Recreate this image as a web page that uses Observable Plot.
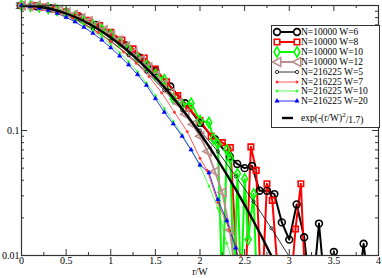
<!DOCTYPE html>
<html><head><meta charset="utf-8">
<script src="https://cdn.jsdelivr.net/npm/d3@7"></script>
<script src="https://cdn.jsdelivr.net/npm/@observablehq/plot@0.6"></script>
<style>
html,body{margin:0;padding:0;background:#fff;font-family:"Liberation Serif";}
#wrap{position:relative;width:382px;height:278px;overflow:hidden;}
#legend{position:absolute;left:0;top:0;}
svg text{font-family:"Liberation Serif";}
</style></head><body><div id="wrap"></div>
<script>
// ---- data ----
const labels = ["N=10000 W=6","N=10000 W=8","N=10000 W=10","N=10000 W=12","N=216225 W=5","N=216225 W=7","N=216225 W=10","N=216225 W=20"];

const r6 = [0,0.167,0.333,0.5,0.667,0.833,1.0,1.167,1.333,1.5,1.667,1.833,2.0,2.167,2.333,2.417,2.5,2.583,2.667,2.75,2.833,2.917,3.0,3.083,3.167,3.25,3.333,3.417,3.5,3.583,3.667,3.75,3.833,3.917];
const v6 = [1.0,0.985,0.95,0.88,0.8,0.7,0.59,0.48,0.38,0.3,0.225,0.165,0.115,0.085,0.062,0.054,0.05,0.052,0.033,0.033,0.031,0.0184,0.0134,0.0256,0.014,0.004,0.018,0.004,0.0107,0.004,0.004,0.004,0.0124,0.004];

const r8 = [0,0.125,0.25,0.375,0.5,0.625,0.75,0.875,1.0,1.125,1.25,1.375,1.5,1.625,1.75,1.875,2.0,2.125,2.25,2.34,2.44,2.5,2.57,2.63,2.69,2.75,2.81,2.9,3.0,3.07,3.13,3.19];
const v8 = [1.0,0.995,0.97,0.94,0.89,0.83,0.76,0.69,0.61,0.53,0.45,0.38,0.31,0.245,0.19,0.15,0.12,0.09,0.08,0.073,0.004,0.004,0.074,0.048,0.004,0.0375,0.0276,0.004,0.004,0.0163,0.0375,0.004];

const r10 = [0,0.1,0.2,0.3,0.4,0.5,0.6,0.7,0.8,0.9,1.0,1.1,1.2,1.3,1.4,1.5,1.6,1.7,1.8,1.9,2.0,2.1,2.15,2.2,2.25,2.3,2.34,2.38,2.42,2.46,2.5,2.54,2.6,2.64];
const v10 = [1.0,0.99,0.975,0.95,0.915,0.87,0.82,0.76,0.7,0.64,0.58,0.51,0.45,0.38,0.33,0.28,0.255,0.18,0.16,0.165,0.12,0.116,0.086,0.078,0.005,0.07,0.06,0.005,0.045,0.005,0.041,0.0134,0.031,0.005];

const r12 = [0,0.083,0.167,0.25,0.333,0.417,0.5,0.583,0.667,0.75,0.833,0.917,1.0,1.083,1.167,1.25,1.333,1.417,1.5,1.583,1.667,1.75,1.833,1.917,2.0,2.083,2.167,2.25,2.333,2.417];
const v12 = [1.0,0.99,0.995,0.97,0.95,0.915,0.88,0.84,0.79,0.745,0.69,0.635,0.58,0.525,0.47,0.42,0.365,0.32,0.275,0.235,0.2,0.165,0.135,0.112,0.09,0.068,0.047,0.032,0.016,0.006];

const r5 = [0,0.2,0.4,0.6,0.8,1.0,1.2,1.4,1.6,1.8,2.0,2.2,2.4,2.6,2.8,3.0,3.2];
const v5 = [1.0,0.965,0.89,0.78,0.65,0.52,0.4,0.295,0.21,0.145,0.1,0.068,0.043,0.027,0.0165,0.0098,0.006];

const r7 = [0,0.143,0.286,0.429,0.571,0.714,0.857,1.0,1.143,1.286,1.429,1.571,1.714,1.857,2.0,2.08,2.2,2.33,2.46,2.57];
const v7 = [1.0,0.98,0.94,0.87,0.79,0.7,0.61,0.515,0.425,0.345,0.27,0.2,0.14,0.098,0.06,0.048,0.0265,0.016,0.01,0.006];

const r10b = [0,0.1,0.2,0.3,0.4,0.5,0.6,0.7,0.8,0.9,1.0,1.1,1.2,1.3,1.4,1.5,1.6,1.7,1.8,1.9,2.0,2.1,2.2,2.3,2.4];
const v10b = [1.0,0.99,0.97,0.935,0.89,0.835,0.77,0.7,0.63,0.56,0.49,0.42,0.355,0.295,0.24,0.19,0.15,0.118,0.092,0.07,0.052,0.036,0.024,0.0125,0.0075];

const r20 = [0,0.1,0.2,0.3,0.4,0.5,0.6,0.7,0.8,0.9,1.0,1.1,1.2,1.3,1.4,1.5,1.6,1.7,1.8,1.9,2.0,2.1,2.2,2.3,2.4,2.5];
const v20 = [1.0,0.985,0.955,0.915,0.865,0.805,0.74,0.67,0.6,0.53,0.46,0.395,0.335,0.28,0.23,0.18,0.14,0.113,0.09,0.07,0.053,0.046,0.028,0.019,0.0115,0.006];

const rFit = [0,0.2,0.4,0.6,0.8,1.0,1.2,1.4,1.6,1.8,2.0,2.2,2.4,2.6,2.8,3.0];
const vFit = [1,0.9767,0.9102,0.8091,0.6863,0.5553,0.4287,0.3157,0.2218,0.1487,0.0951,0.0580,0.0338,0.0188,0.00994,0.00502];

const xMajor = [0,0.5,1,1.5,2,2.5,3,3.5,4];
const xMinor = [0.25,0.75,1.25,1.75,2.25,2.75,3.25,3.75];
const yMajor = [0.01,0.1,1];
const yMinor = [0.02,0.03,0.04,0.05,0.06,0.07,0.08,0.09,0.2,0.3,0.4,0.5,0.6,0.7,0.8,0.9];

// ---- styling ----
const FONT = "Liberation Serif";
const leftTri = {draw(ctx, size){ const h = Math.sqrt(size/Math.PI)*1.25; ctx.moveTo(-h,0); ctx.lineTo(h*0.85,-h); ctx.lineTo(h*0.85,h); ctx.closePath(); }};
const series = [
  {r:r6,  v:v6,  color:"#000000", sw:2,   sym:"circle",  mr:3.4, fill:"none", msw:1.6},
  {r:r8,  v:v8,  color:"#ff0000", sw:2,   sym:"square",  mr:3.1, fill:"none", msw:1.6},
  {r:r10, v:v10, color:"#00ff00", sw:2,   sym:"diamond", mr:3.1, fill:"none", msw:1.6},
  {r:r12, v:v12, color:"#bc8f8f", sw:2,   sym:leftTri,   mr:3.5, fill:"none", msw:1.6},
  {r:r5,  v:v5,  color:"#000000", sw:0.8, sym:"circle",  mr:1.6, fill:"none", msw:0.8},
  {r:r7,  v:v7,  color:"#ff3030", sw:0.8, sym:"circle",  mr:1.2, fill:"#ff3030", msw:0.5},
  {r:r10b,v:v10b,color:"#30ff30", sw:0.8, sym:"circle",  mr:1.2, fill:"#30ff30", msw:0.5},
  {r:r20, v:v20, color:"#0000ff", sw:0.8, sym:"triangle",mr:1.6, fill:"#0000ff", msw:0.5}
];
series.forEach((s,k)=> s.name = labels[k]);

const FW = 357, FH = 250;
const tick = "#333";
const marks = [];
series.forEach(s => {
  const rows = s.r.map((r,i)=>({r, v:s.v[i]}));
  marks.push(Plot.line(rows, {x:"r", y:"v", stroke:s.color, strokeWidth:s.sw, clip:true}));
});
series.forEach(s => {
  const rows = s.r.map((r,i)=>({r, v:s.v[i]})).filter(d => d.v >= 0.01);
  marks.push(Plot.dot(rows, {x:"r", y:"v", symbol:s.sym, r:s.mr, stroke:s.color, fill:s.fill, strokeWidth:s.msw}));
});
marks.push(Plot.line(rFit.map((r,i)=>({r, v:vFit[i]})), {x:"r", y:"v", stroke:"#000", strokeWidth:2.4, curve:"monotone-x", clip:true}));

// frame & inward ticks on all sides
marks.push(Plot.frame({stroke:tick, strokeWidth:1.2}));
marks.push(Plot.ruleX(xMajor, {stroke:tick, insetTop:FH-6}));
marks.push(Plot.ruleX(xMinor, {stroke:tick, insetTop:FH-3}));
marks.push(Plot.ruleX(xMajor, {stroke:tick, insetBottom:FH-6}));
marks.push(Plot.ruleX(xMinor, {stroke:tick, insetBottom:FH-3}));
marks.push(Plot.ruleY(yMajor, {stroke:tick, insetRight:FW-6}));
marks.push(Plot.ruleY(yMinor, {stroke:tick, insetRight:FW-3}));
marks.push(Plot.ruleY(yMajor, {stroke:tick, insetLeft:FW-6}));
marks.push(Plot.ruleY(yMinor, {stroke:tick, insetLeft:FW-3}));
marks.push(Plot.axisX({ticks:xMajor, tickSize:0, tickPadding:1, tickFormat:d=>String(d), label:null, fontFamily:FONT}));
marks.push(Plot.axisY({ticks:yMajor, tickSize:0, tickPadding:2, tickFormat:d=>String(d), label:null, fontFamily:FONT}));
marks.push(Plot.text(["r/W"], {frameAnchor:"bottom", dy:19, fontSize:10, fontFamily:FONT}));

const chart = Plot.plot({
  width:382, height:278,
  marginLeft:21, marginRight:4, marginTop:5, marginBottom:23,
  style:{fontFamily:FONT, fontSize:"10px", background:"#fff", color:"#000"},
  x:{domain:[0,4]},
  y:{type:"log", domain:[0.01,1]},
  marks
});
const wrap = document.getElementById("wrap");
wrap.appendChild(chart);

// ---- legend ----
const lg = d3.select(wrap).append("svg").attr("id","legend").attr("width",382).attr("height",278)
  .attr("font-family",FONT).attr("font-size","9.5px");
lg.append("rect").attr("x",271.5).attr("y",25.5).attr("width",108).attr("height",102)
  .attr("fill","#fff").attr("stroke","#333").attr("stroke-width",1);
const rowY = [32,42,52,62,72,82,91,101];
const symMap = {circle:d3.symbolCircle, square:d3.symbolSquare, diamond:d3.symbolDiamond, triangle:d3.symbolTriangle};
series.forEach((s,k)=>{
  const y = rowY[k];
  lg.append("line").attr("x1",277).attr("x2",297).attr("y1",y).attr("y2",y).attr("stroke",s.color).attr("stroke-width",s.sw);
  const type = typeof s.sym === "string" ? symMap[s.sym] : s.sym;
  const path = d3.symbol().type(type).size(s.mr*s.mr*Math.PI)();
  [277,297].forEach(x => lg.append("path").attr("d",path).attr("transform",`translate(${x},${y})`)
    .attr("stroke",s.color).attr("fill",s.fill==="none"?"#fff":s.fill).attr("stroke-width",s.msw));
  lg.append("text").attr("x",301).attr("y",y).attr("dy","0.35em").text(s.name);
});
lg.append("line").attr("x1",282).attr("x2",293).attr("y1",118).attr("y2",118).attr("stroke","#000").attr("stroke-width",2.4);
const t = lg.append("text").attr("x",301).attr("y",118).attr("dy","0.35em");
t.append("tspan").text("exp(-(r/W)");
t.append("tspan").attr("dy","-0.55em").attr("font-size","7px").text("2");
t.append("tspan").attr("dy","0.55em").text("/1.7)");
</script></body></html>
